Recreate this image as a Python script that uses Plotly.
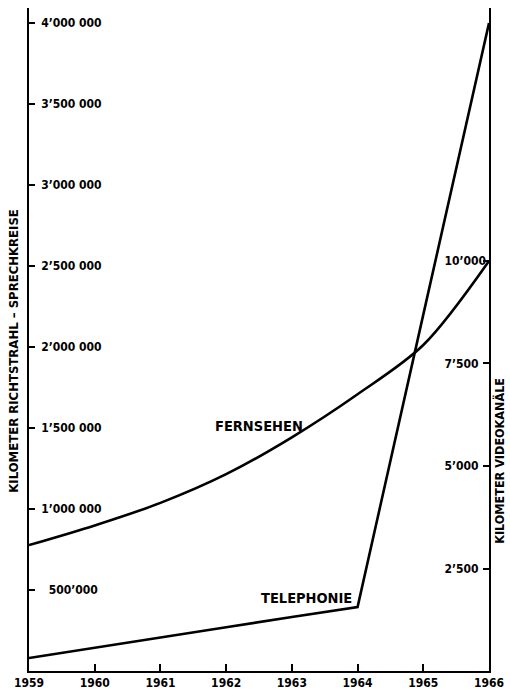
import plotly.graph_objects as go

years = [1959, 1960, 1961, 1962, 1963, 1964, 1965, 1966]
telephonie_km = [80000, 142000, 207000, 270000, 333000, 395000, 2200000, 4000000]
fernsehen_km = [3070, 3550, 4100, 4800, 5700, 6750, 7950, 10000]

left_tickvals = [500000, 1000000, 1500000, 2000000, 2500000, 3000000, 3500000, 4000000]
left_ticktext = ["500’000\u00a0", "1’000 000", "1’500 000", "2’000 000", "2’500 000",
                 "3’000 000", "3’500 000", "4’000 000"]
right_tickvals = [2500, 5000, 7500, 10000]
right_ticktext = ["2’500", "5’000", "7’500", "10’000"]

FONT = "DejaVu Sans Condensed"
TICKFONT = dict(family=FONT, size=12, color="black", weight="bold")


def tfont(size):
    return dict(family=FONT, size=size, color="black", weight="bold")


fig = go.Figure()
fig.add_trace(go.Scatter(x=years, y=telephonie_km, mode="lines",
                         line=dict(color="black", width=2.6), yaxis="y", showlegend=False,
                         hoverinfo="skip"))
fig.add_trace(go.Scatter(x=years, y=fernsehen_km, mode="lines",
                         line=dict(color="black", width=2.6, shape="spline", smoothing=0.9),
                         yaxis="y2", showlegend=False, hoverinfo="skip"))

fig.update_layout(
    width=510, height=695,
    margin=dict(l=29, r=21, t=8, b=24),
    paper_bgcolor="white", plot_bgcolor="white",
    font=dict(family=FONT, size=12, color="black"),
    xaxis=dict(range=[1959, 1966], tickvals=years, ticktext=[str(y) for y in years],
               showgrid=False, zeroline=False, showline=True, linecolor="black", linewidth=2,
               ticks="inside", ticklen=7, tickwidth=2, tickcolor="black",
               automargin=False, ticklabeloverflow="allow", tickfont=TICKFONT),
    yaxis=dict(range=[0, 4093000], tickvals=left_tickvals, ticktext=left_ticktext,
               showgrid=False, zeroline=False, showline=True, linecolor="black", linewidth=2,
               ticks="inside", ticklen=6, tickwidth=2, tickcolor="black",
               ticklabelposition="outside", ticklabelstandoff=-77,
               ticklabeloverflow="allow", automargin=False, tickfont=TICKFONT),
    yaxis2=dict(range=[0, 16170], tickvals=right_tickvals, ticktext=right_ticktext,
                overlaying="y", side="right",
                showgrid=False, zeroline=False, showline=True, linecolor="black", linewidth=2,
                ticks="inside", ticklen=6, tickwidth=2, tickcolor="black",
                ticklabelposition="outside", ticklabelstandoff=-49,
                ticklabeloverflow="allow", automargin=False, tickfont=TICKFONT),
    annotations=[
        dict(text="KILOMETER RICHTSTRAHL – SPRECHKREISE", xref="paper", yref="paper",
             x=-0.0326, y=0.483, xanchor="center", yanchor="middle",
             textangle=-90, showarrow=False, font=tfont(13)),
        dict(text="KILOMETER VIDEOKANÄLE", xref="paper", yref="paper",
             x=1.0239, y=0.317, xanchor="center", yanchor="middle",
             textangle=-90, showarrow=False, font=tfont(12.5)),
        dict(text="FERNSEHEN", x=1962.5, y=1510000, xref="x", yref="y",
             xanchor="center", yanchor="middle", showarrow=False, font=tfont(14.5)),
        dict(text="TELEPHONIE", x=1963.23, y=450000, xref="x", yref="y",
             xanchor="center", yanchor="middle", showarrow=False, font=tfont(14.5)),
    ],
)

fig.write_html("out.html", config={"displayModeBar": False},
               post_script="document.body.style.margin='0';document.body.style.overflow='hidden';")
